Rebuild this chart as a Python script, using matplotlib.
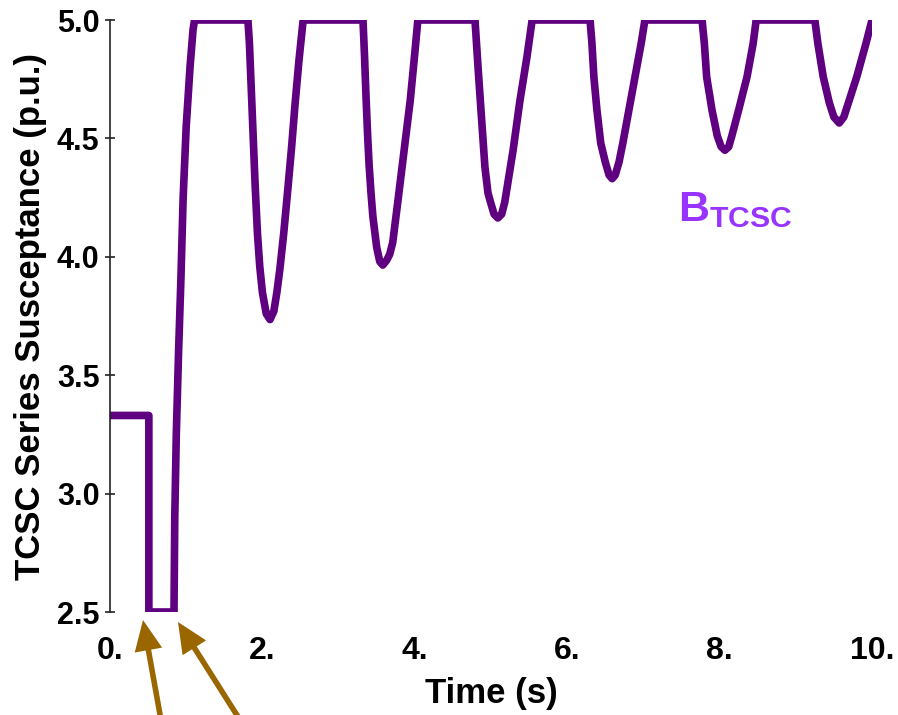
import numpy as np
import matplotlib
matplotlib.use('Agg')
import matplotlib.pyplot as plt

plt.rcParams['font.family'] = ['Liberation Sans', 'DejaVu Sans']
plt.rcParams['font.weight'] = 'bold'
plt.rcParams['mathtext.fontset'] = 'custom'
plt.rcParams['mathtext.bf'] = 'Liberation Sans:bold'
plt.rcParams['mathtext.rm'] = 'Liberation Sans:bold'

# Donnees : temps (s) et susceptance (p.u.)
t_start = [0.0, 0.51, 0.51, 0.84, 0.85, 0.87, 0.90, 0.93, 0.96, 1.00, 1.05, 1.09, 1.11]
b_start = [3.33, 3.33, 2.5, 2.5, 2.9, 3.25, 3.6, 3.9, 4.25, 4.55, 4.8, 4.96, 5.0]

t_dip1 = [1.81, 1.83, 1.855, 1.88, 1.905, 1.935, 1.965, 2.00, 2.05, 2.10, 2.15, 2.19, 2.23,
          2.28, 2.335, 2.385, 2.43, 2.48, 2.535]
b_dip1 = [5.0, 4.9, 4.7, 4.5, 4.3, 4.1, 3.96, 3.85, 3.76, 3.735, 3.77, 3.85, 3.95,
          4.1, 4.29, 4.47, 4.65, 4.83, 5.0]

t_dip2 = [3.32, 3.34, 3.36, 3.38, 3.40, 3.425, 3.45, 3.50, 3.54, 3.58, 3.63, 3.67, 3.71,
          3.78, 3.86, 3.94, 4.00, 4.04]
b_dip2 = [5.0, 4.85, 4.675, 4.52, 4.39, 4.27, 4.17, 4.04, 3.98, 3.965, 3.985, 4.01, 4.06,
          4.24, 4.45, 4.66, 4.86, 5.0]

t_dip3 = [4.79, 4.81, 4.83, 4.88, 4.92, 4.96, 4.99, 5.04, 5.09, 5.14, 5.18, 5.235, 5.29,
          5.38, 5.47, 5.54]
b_dip3 = [5.0, 4.9, 4.8, 4.565, 4.38, 4.27, 4.235, 4.18, 4.164, 4.18, 4.23, 4.34, 4.45,
          4.66, 4.84, 5.0]

t_dip4 = [6.30, 6.325, 6.35, 6.39, 6.44, 6.50, 6.55, 6.59, 6.63, 6.68, 6.73, 6.81, 6.89,
          6.97, 7.02]
b_dip4 = [5.0, 4.9, 4.76, 4.62, 4.48, 4.40, 4.345, 4.33, 4.345, 4.40, 4.48, 4.62, 4.76,
          4.9, 5.0]

t_dip5 = [7.77, 7.80, 7.83, 7.90, 7.97, 8.02, 8.07, 8.12, 8.16, 8.25, 8.36, 8.44, 8.48]
b_dip5 = [5.0, 4.9, 4.76, 4.62, 4.51, 4.465, 4.45, 4.465, 4.51, 4.62, 4.76, 4.9, 5.0]

t_dip6 = [9.25, 9.29, 9.36, 9.44, 9.50, 9.57, 9.63, 9.69, 9.80, 9.92, 10.0]
b_dip6 = [5.0, 4.9, 4.76, 4.65, 4.59, 4.565, 4.59, 4.65, 4.76, 4.9, 5.0]

temps = t_start + t_dip1 + t_dip2 + t_dip3 + t_dip4 + t_dip5 + t_dip6
b_tcsc = b_start + b_dip1 + b_dip2 + b_dip3 + b_dip4 + b_dip5 + b_dip6

x_ticks = [0, 2, 4, 6, 8, 10]
x_labels = ['0.', '2.', '4.', '6.', '8.', '10.']
y_ticks = [2.5, 3.0, 3.5, 4.0, 4.5, 5.0]
y_labels = ['2.5', '3.0', '3.5', '4.0', '4.5', '5.0']

fig = plt.figure(figsize=(8.98, 7.15), dpi=100)
ax = fig.add_axes([110 / 898, 1 - 612 / 715, 762 / 898, 592 / 715])

ax.plot(temps, b_tcsc, color='#5f0080', lw=5.5, solid_joinstyle='round')

ax.set_xlim(0, 10)
ax.set_ylim(2.5, 5.0)
ax.set_xticks(x_ticks)
ax.set_xticklabels(x_labels)
ax.set_yticks(y_ticks)
ax.set_yticklabels(y_labels)

for s in ['top', 'right', 'bottom']:
    ax.spines[s].set_visible(False)
ax.spines['left'].set_linewidth(1.2)
ax.spines['left'].set_color('#222222')

ax.tick_params(axis='x', length=0, pad=17, labelsize=23)
ax.tick_params(axis='y', direction='inout', length=7, width=1.2, color='#222222',
               pad=4, labelsize=22)

ax.set_xlabel('Time (s)', fontsize=25, fontweight='bold', labelpad=8)
ax.set_ylabel('TCSC Series Susceptance (p.u.)', fontsize=25, fontweight='bold', labelpad=7)

ax.text(7.46, 4.15, r'$\mathbf{B}_{\mathbf{TCSC}}$', color='#9933ff', fontsize=31,
        va='baseline', ha='left')

# Fleches marron sous l'axe
for tip, tail in [((143, 620), (161, 720)), ((178, 622), (240, 720))]:
    ax.annotate('', xy=(tip[0] / 898, 1 - tip[1] / 715), xycoords='figure fraction',
                xytext=(tail[0] / 898, 1 - tail[1] / 715), textcoords='figure fraction',
                arrowprops=dict(arrowstyle='simple,head_length=1.1,head_width=1.0,tail_width=0.2',
                                color='#996600', lw=0, mutation_scale=20,
                                shrinkA=0, shrinkB=0))

plt.savefig('out.png', dpi=100)
